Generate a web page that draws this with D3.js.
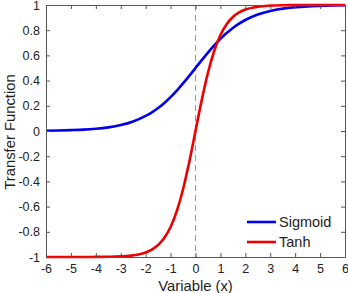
<!DOCTYPE html>
<html><head><meta charset="utf-8">
<script src="https://cdn.jsdelivr.net/npm/d3@7"></script>
<style>body{margin:0;background:#fff}svg{display:block;font-family:"Liberation Sans",Arial,sans-serif}</style>
</head><body><svg id="c" width="348" height="293"></svg>
<script>
const xValues = [-6,-5.5,-5,-4.5,-4,-3.5,-3,-2.5,-2,-1.75,-1.5,-1.25,-1,-0.75,-0.5,-0.25,0,0.25,0.5,0.75,1,1.25,1.5,1.75,2,2.5,3,3.5,4,4.5,5,5.5,6];
const sigmoidValues = [0.002,0.004,0.007,0.011,0.018,0.029,0.047,0.076,0.12,0.148,0.182,0.223,0.269,0.321,0.378,0.438,0.5,0.562,0.622,0.679,0.731,0.777,0.818,0.852,0.881,0.924,0.953,0.971,0.982,0.989,0.993,0.996,0.998];
const tanhValues = [-1,-1,-1,-1,-0.999,-0.998,-0.995,-0.987,-0.964,-0.941,-0.905,-0.848,-0.762,-0.635,-0.462,-0.245,0,0.245,0.462,0.635,0.762,0.848,0.905,0.941,0.964,0.987,0.995,0.998,0.999,1,1,1,1];
const xTicks = [-6,-5,-4,-3,-2,-1,0,1,2,3,4,5,6];
const yTicks = [-1,-0.8,-0.6,-0.4,-0.2,0,0.2,0.4,0.6,0.8,1];
const seriesNames = ["Sigmoid","Tanh"];
const seriesColors = ["#0000ee","#ee0000"];

const svg = d3.select("#c");
const L=46, R=345, T=5, B=257;
const x = d3.scaleLinear().domain([-6,6]).range([L,R]);
const y = d3.scaleLinear().domain([-1,1]).range([B,T]);
const axisColor = "#555";

svg.append("line").attr("x1",x(0)).attr("x2",x(0)).attr("y1",T).attr("y2",B)
  .attr("stroke","#999").attr("stroke-dasharray","6,4").attr("stroke-width",1);

const line = d3.line().x((d,i)=>x(xValues[i])).y(d=>y(d)).curve(d3.curveMonotoneX);
[sigmoidValues,tanhValues].forEach((vals,k)=>{
  svg.append("path").datum(vals).attr("d",line).attr("fill","none")
    .attr("stroke",seriesColors[k]).attr("stroke-width",2.6).attr("stroke-linejoin","round");
});

function styleAxis(g){g.select(".domain").attr("stroke",axisColor);g.selectAll(".tick line").attr("stroke",axisColor);g.selectAll("text").attr("fill","#222").attr("font-size","12.5px").attr("font-family","Liberation Sans, Arial, sans-serif");}
const fmt = d=>String(d);
svg.append("g").attr("transform",`translate(0,${B})`).call(d3.axisBottom(x).tickValues(xTicks).tickFormat(fmt).tickSizeInner(-4).tickSizeOuter(0).tickPadding(7)).call(styleAxis);
svg.append("g").attr("transform",`translate(0,${T})`).call(d3.axisTop(x).tickValues(xTicks).tickFormat("").tickSizeInner(-4).tickSizeOuter(0)).call(styleAxis);
svg.append("g").attr("transform",`translate(${L},0)`).call(d3.axisLeft(y).tickValues(yTicks).tickFormat(fmt).tickSizeInner(-4).tickSizeOuter(0).tickPadding(6)).call(styleAxis);
svg.append("g").attr("transform",`translate(${R},0)`).call(d3.axisRight(y).tickValues(yTicks).tickFormat("").tickSizeInner(-4).tickSizeOuter(0)).call(styleAxis);

svg.append("text").attr("x",(L+R)/2).attr("y",291).attr("text-anchor","middle").attr("font-size","14.8px").attr("fill","#222").text("Variable (x)");
svg.append("text").attr("transform",`translate(15,${(T+B)/2+1}) rotate(-90)`).attr("text-anchor","middle").attr("font-size","14.8px").attr("fill","#222").text("Transfer Function");

const leg = svg.append("g");
seriesNames.forEach((n,k)=>{
  const yy = 222 + k*20;
  leg.append("line").attr("x1",247).attr("x2",276).attr("y1",yy).attr("y2",yy).attr("stroke",seriesColors[k]).attr("stroke-width",2.6);
  leg.append("text").attr("x",279).attr("y",yy+5).attr("font-size","14.5px").attr("fill","#222").text(n);
});
</script></body></html>
